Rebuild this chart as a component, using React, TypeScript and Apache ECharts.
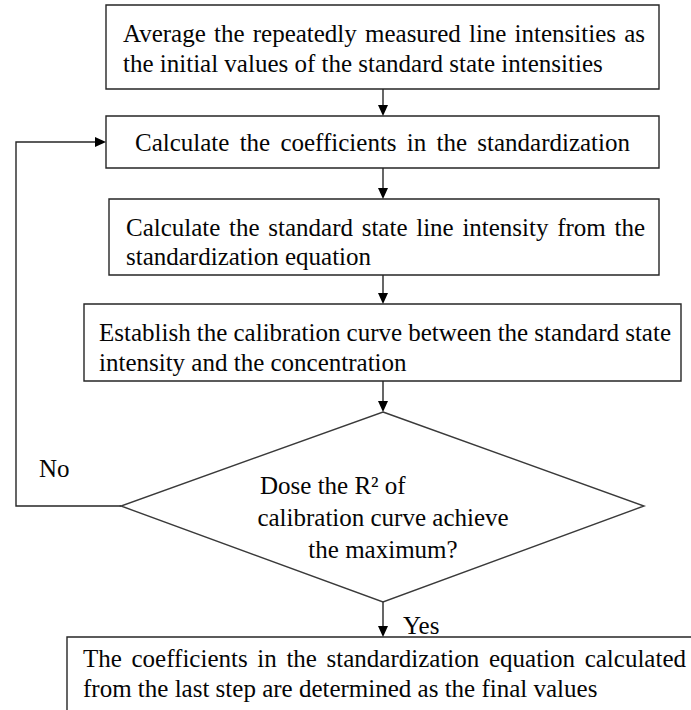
import React, { useEffect, useRef } from "react";
import * as echarts from "echarts";

// ---- content (texts of the flowchart) ----
const box1Lines = [
  "Average the repeatedly measured line intensities as",
  "the initial values of the standard state intensities",
];
const box2Lines = ["Calculate the coefficients in the standardization"];
const box3Lines = [
  "Calculate the standard state line intensity from the",
  "standardization equation",
];
const box4Lines = [
  "Establish the calibration curve between the standard state",
  "intensity and the concentration",
];
const decisionLines = ["Dose the R\u00B2 of", "calibration curve achieve", "the maximum?"];
const finalLines = [
  "The coefficients in the standardization equation calculated",
  "from the last step are determined as the final values",
];
const noLabel = "No";
const yesLabel = "Yes";

// ---- layout ----
const FONT = '"Liberation Serif", "Times New Roman", serif';
const FS = 25;
const LINE = "#262626";
const LW = 1.4;
const CX = 383;

type Box = {
  x0: number; y0: number; x1: number; y1: number;
  lines: string[]; tx0: number; tx1: number; ys: number[];
  modes: ("justify" | "left" | "center")[];
};

const boxes: Box[] = [
  { x0: 106, y0: 5, x1: 659, y1: 89, lines: box1Lines, tx0: 123, tx1: 645, ys: [33, 63], modes: ["justify", "left"] },
  { x0: 106, y0: 116, x1: 659, y1: 168, lines: box2Lines, tx0: 135, tx1: 630, ys: [142], modes: ["justify"] },
  { x0: 109, y0: 199, x1: 659, y1: 275, lines: box3Lines, tx0: 126, tx1: 645, ys: [227, 256], modes: ["justify", "left"] },
  { x0: 84, y0: 304, x1: 681, y1: 381, lines: box4Lines, tx0: 99, tx1: 671, ys: [332, 362], modes: ["justify", "left"] },
  { x0: 67, y0: 637, x1: 720, y1: 740, lines: finalLines, tx0: 83, tx1: 686, ys: [658, 688], modes: ["justify", "left"] },
];

const diamond = { top: [CX, 412], left: [121, 506], right: [644, 506], bottom: [CX, 602] };

let measureCtx: CanvasRenderingContext2D | null = null;
function measure(s: string): number {
  if (!measureCtx) measureCtx = document.createElement("canvas").getContext("2d");
  measureCtx!.font = `${FS}px ${FONT}`;
  return measureCtx!.measureText(s).width;
}

function textEl(text: string, x: number, y: number, align: string = "left"): any {
  return {
    type: "text",
    x, y,
    style: {
      text,
      fontSize: FS,
      fontFamily: FONT,
      fill: "#050505",
      textAlign: align,
      textVerticalAlign: "middle",
      verticalAlign: "middle",
    },
    silent: true,
  };
}

function justified(line: string, x0: number, x1: number, y: number): any[] {
  const words = line.split(" ");
  const widths = words.map(measure);
  const total = widths.reduce((a, b) => a + b, 0);
  const gap = words.length > 1 ? (x1 - x0 - total) / (words.length - 1) : 0;
  let x = x0;
  return words.map((w, i) => {
    const el = textEl(w, x, y);
    x += widths[i] + gap;
    return el;
  });
}

function arrowDown(x: number, y0: number, y1: number): any[] {
  const h = 11, hw = 5;
  return [
    { type: "line", shape: { x1: x, y1: y0, x2: x, y2: y1 - h }, style: { stroke: LINE, lineWidth: LW } },
    { type: "polygon", shape: { points: [[x - hw, y1 - h], [x + hw, y1 - h], [x, y1]] }, style: { fill: "#000" } },
  ];
}

function buildGraphics(): any[] {
  const els: any[] = [];
  boxes.forEach((b) => {
    els.push({
      type: "rect",
      shape: { x: b.x0, y: b.y0, width: b.x1 - b.x0, height: b.y1 - b.y0 },
      style: { fill: "#fff", stroke: LINE, lineWidth: LW },
    });
    b.lines.forEach((ln, i) => {
      const m = b.modes[i];
      if (m === "justify") els.push(...justified(ln, b.tx0, b.tx1, b.ys[i]));
      else if (m === "center") els.push(textEl(ln, (b.x0 + b.x1) / 2, b.ys[i], "center"));
      else els.push(textEl(ln, b.tx0, b.ys[i]));
    });
  });

  // vertical arrows
  els.push(...arrowDown(CX, 89, 116));
  els.push(...arrowDown(CX, 168, 199));
  els.push(...arrowDown(CX, 275, 304));
  els.push(...arrowDown(CX, 381, 412));
  els.push(...arrowDown(CX, 602, 637));

  // decision diamond
  els.push({
    type: "polygon",
    shape: { points: [diamond.top, diamond.right, diamond.bottom, diamond.left] },
    style: { fill: "#fff", stroke: "#3a3a3a", lineWidth: LW },
  });
  els.push(textEl(decisionLines[0], 260, 485));
  els.push(textEl(decisionLines[1], CX, 517, "center"));
  els.push(textEl(decisionLines[2], CX, 549, "center"));

  // feedback loop (No)
  els.push({
    type: "polyline",
    shape: { points: [diamond.left, [16, 506], [16, 142], [95, 142]] },
    style: { stroke: LINE, lineWidth: LW, fill: null },
  });
  els.push({ type: "polygon", shape: { points: [[95, 137], [95, 147], [106, 142]] }, style: { fill: "#000" } });
  els.push(textEl(noLabel, 39, 468));
  els.push(textEl(yesLabel, 403, 625));
  return els;
}

export default function App() {
  const ref = useRef<HTMLDivElement>(null);
  useEffect(() => {
    if (!ref.current) return;
    const chart = echarts.init(ref.current, null, { renderer: "svg" });
    chart.setOption({
      animation: false,
      backgroundColor: "#fff",
      graphic: { elements: buildGraphics() },
    });
    return () => chart.dispose();
  }, []);
  return (
    <div
      ref={ref}
      style={{ position: "fixed", left: 0, top: 0, width: 691, height: 710, background: "#fff" }}
    />
  );
}
